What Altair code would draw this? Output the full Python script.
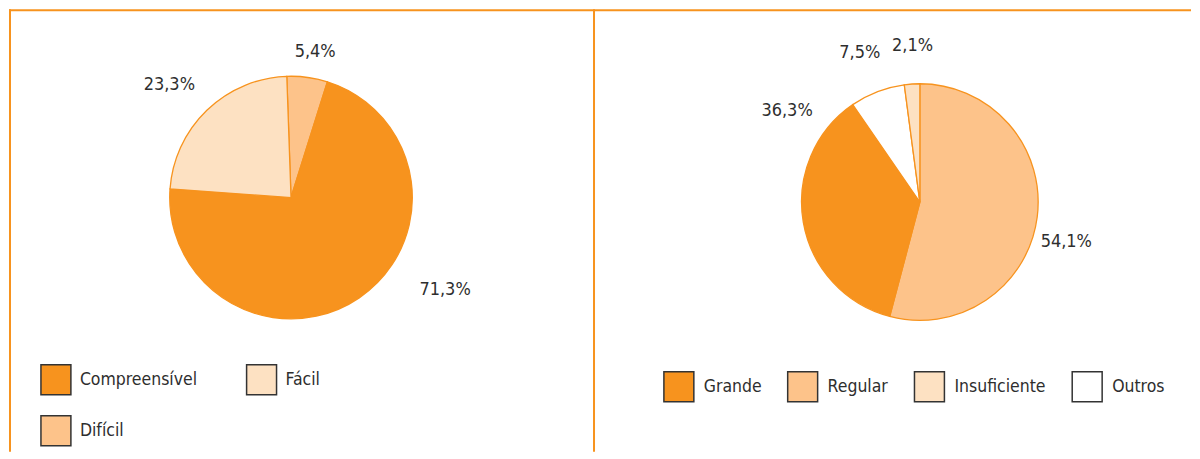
import math
import altair as alt
import pandas as pd

# ---------------- data ----------------
left_categories = ["Difícil", "Compreensível", "Fácil"]          # clockwise from top
left_values = [5.4, 71.3, 23.3]
left_labels = ["5,4%", "71,3%", "23,3%"]
left_legend_order = ["Compreensível", "Fácil", "Difícil"]

right_categories = ["Regular", "Grande", "Outros", "Insuficiente"]  # clockwise from top
right_values = [54.1, 36.3, 7.5, 2.1]
right_labels = ["54,1%", "36,3%", "7,5%", "2,1%"]
right_legend_order = ["Grande", "Regular", "Insuficiente", "Outros"]

# ---------------- styles / layout ----------------
ORANGE = "#F7931E"
MID = "#FDC38A"
LIGHT = "#FDE1C2"
WHITE = "#FFFFFF"
TEXT = "#2E2E2E"
FONT = "DejaVu Sans Condensed"

left_colors = {"Compreensível": ORANGE, "Fácil": LIGHT, "Difícil": MID}
right_colors = {"Grande": ORANGE, "Regular": MID, "Insuficiente": LIGHT, "Outros": WHITE}

# label placement: (angle nudge in degrees from slice middle, distance from centre in px)
left_label_layout = {"Difícil": (1.7, 148), "Compreensível": (-24.8, 180), "Fácil": (-3.3, 166)}
right_label_layout = {"Regular": (7.8, 152), "Grande": (44.2, 161), "Outros": (-0.9, 161),
                      "Insuficiente": (1.1, 156)}

W_LEFT, W_RIGHT, H = 586, 598, 443


def pie_frame(cats, vals, labels, layout):
    df = pd.DataFrame({"cat": cats, "value": vals, "label": labels})
    total = df["value"].sum()
    df["pct"] = df["value"] / total * 100
    df["end"] = df["pct"].cumsum()
    df["start"] = df["end"] - df["pct"]
    df["mid"] = (df["start"] + df["end"]) / 2
    df["lab_pos"] = df["mid"] + df["cat"].map(lambda c: layout[c][0] / 3.6)
    df["lab_r"] = df["cat"].map(lambda c: layout[c][1])
    return df


def pie_panel(df, colors, legend_order, start_deg, cx, cy, radius, width,
              legend_x, legend_y, columns, column_padding, row_padding, label_offset,
              frame_rules):
    off = math.radians(start_deg)
    th_scale = alt.Scale(domain=[0, 100], range=[off, off + 2 * math.pi])
    color = alt.Color(
        "cat:N",
        scale=alt.Scale(domain=legend_order, range=[colors[c] for c in legend_order]),
        legend=alt.Legend(
            orient="none", legendX=legend_x, legendY=legend_y, direction="horizontal",
            columns=columns, title=None, symbolType="square", symbolSize=900,
            symbolStrokeColor="#333333", symbolStrokeWidth=1.5, symbolOpacity=1,
            labelFont=FONT, labelFontSize=17.5, labelColor=TEXT, labelOffset=label_offset,
            columnPadding=column_padding, rowPadding=row_padding, padding=0, labelLimit=300,
        ),
    )
    arcs = alt.Chart(df).mark_arc(
        outerRadius=radius, stroke=ORANGE, strokeWidth=1.3
    ).encode(
        theta=alt.Theta("start:Q", scale=th_scale, stack=None),
        theta2="end:Q",
        color=color,
        x=alt.value(cx), y=alt.value(cy),
    )
    text = alt.Chart(df).mark_text(
        font=FONT, fontSize=18, color=TEXT, align="center", baseline="middle"
    ).encode(
        theta=alt.Theta("lab_pos:Q", scale=th_scale, stack=None),
        radius=alt.Radius("lab_r:Q", scale=None),
        text="label:N",
        x=alt.value(cx), y=alt.value(cy),
    )
    one = pd.DataFrame({"k": [0]})
    rules = []
    for (x1, x2, y1, y2) in frame_rules:
        enc = dict(x=alt.value(x1), y=alt.value(y1))
        if x2 is not None:
            enc["x2"] = alt.value(x2)
        if y2 is not None:
            enc["y2"] = alt.value(y2)
        rules.append(alt.Chart(one).mark_rule(color=ORANGE, strokeWidth=2).encode(**enc))
    return alt.layer(arcs, text, *rules).properties(width=width, height=H)


left_df = pie_frame(left_categories, left_values, left_labels, left_label_layout)
right_df = pie_frame(right_categories, right_values, right_labels, right_label_layout)

left = pie_panel(
    left_df, left_colors, left_legend_order, start_deg=-2, cx=282.5, cy=188.5, radius=121.5,
    width=W_LEFT, legend_x=31, legend_y=355, columns=2, column_padding=46, row_padding=15,
    label_offset=8,
    frame_rules=[(0, W_LEFT, 1, None), (1, None, 0, H), (W_LEFT, None, 0, H)],
)
right = pie_panel(
    right_df, right_colors, right_legend_order, start_deg=0, cx=326.4, cy=193, radius=118.5,
    width=W_RIGHT, legend_x=69, legend_y=362, columns=4, column_padding=23, row_padding=15,
    label_offset=9,
    frame_rules=[(0, W_RIGHT, 1, None)],
)

chart = alt.hconcat(left, right, spacing=0, padding=0, bounds="flush").resolve_scale(
    color="independent", theta="independent"
).resolve_legend(color="independent").configure_view(stroke=None)

chart.save("out.html", embed_options={"renderer": "svg", "actions": False})
